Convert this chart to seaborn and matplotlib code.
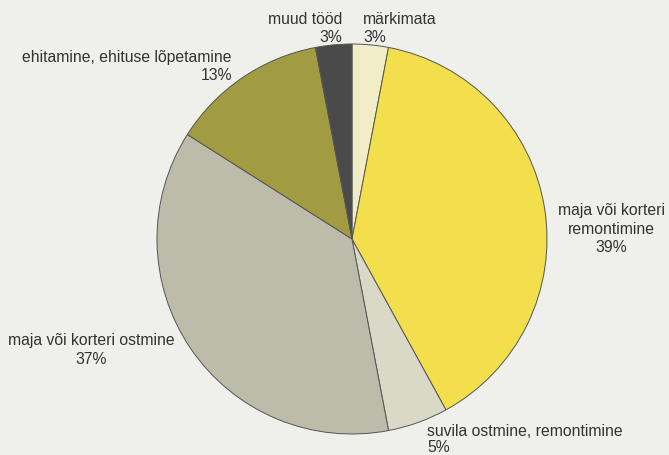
import seaborn as sns
from matplotlib import pyplot as plt

# Andmed (kellaosuti suunas, alates ülevalt)
kategooriad = ["märkimata", "maja või korteri\nremontimine", "suvila ostmine, remontimine",
               "maja või korteri ostmine", "ehitamine, ehituse lõpetamine", "muud tööd"]
protsendid = [3, 39, 5, 37, 13, 3]
varvid = ["#F1EDC6", "#F3DF4C", "#DAD8C6", "#BDBBA9", "#A19C42", "#4A4A4A"]

sns.set_theme(style="white")
plt.rcParams['font.family'] = ['Liberation Sans', 'DejaVu Sans']

fig = plt.figure(figsize=(6.69, 4.56), dpi=100)
fig.patch.set_facecolor("#EFEFEC")
ax = fig.add_axes([0, 0, 1, 1])
ax.set_facecolor("#EFEFEC")

# Pirukas pikslikoordinaatides
H = 456
ax.pie(protsendid, colors=varvid, startangle=90, counterclock=False,
       center=(352, H - 240), radius=195, frame=True,
       wedgeprops=dict(edgecolor="#555555", linewidth=0.7))
ax.set_xlim(0, 669)
ax.set_ylim(0, H)
ax.set_aspect("equal")
ax.axis("off")

# Sildid: (tekst, x, y ülalt, joondus)
fs = 11.3
col = "#333333"
sildid = [
    ("muud tööd", 342, 19, "right"), ("3%", 342, 37, "right"),
    ("märkimata", 363, 19, "left"), ("3%", 363, 37, "left"),
    ("ehitamine, ehituse lõpetamine", 232, 57, "right"), ("13%", 232, 76, "right"),
    ("maja või korteri", 611, 211, "center"), ("remontimine", 611, 229, "center"),
    ("39%", 611, 248, "center"),
    ("maja või korteri ostmine", 91, 341, "center"), ("37%", 91, 359, "center"),
    ("suvila ostmine, remontimine", 427, 432, "left"), ("5%", 427, 448, "left"),
]
for tekst, x, y, joon in sildid:
    ax.text(x, H - y, tekst, ha=joon, va="center", fontsize=fs, color=col)

plt.savefig("out.png", dpi=100, facecolor=fig.get_facecolor())
